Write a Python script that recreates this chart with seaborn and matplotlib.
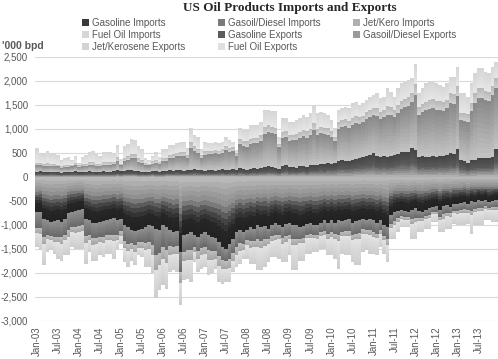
import numpy as np
import pandas as pd
import matplotlib
matplotlib.use("Agg")
import matplotlib.pyplot as plt
from matplotlib.patches import Patch
import seaborn as sns

#%% Data ('000 bpd), monthly Jan-03 .. Dec-13, imports negative

months = pd.date_range("2003-01-01", "2013-12-01", freq="MS")

tick_labels = ["Jan-03", "Jul-03", "Jan-04", "Jul-04", "Jan-05", "Jul-05",
               "Jan-06", "Jul-06", "Jan-07", "Jul-07", "Jan-08", "Jul-08",
               "Jan-09", "Jul-09", "Jan-10", "Jul-10", "Jan-11", "Jul-11",
               "Jan-12", "Jan-12", "Jan-13", "Jul-13"]

gasoline_imports = [
    -730, -720, -870, -900, -940, -920, -900, -930, -880, -760, -720, -700,
    -680, -660, -870, -900, -950, -960, -940, -920, -900, -880, -850, -900,
    -870, -1000, -1050, -1100, -1120, -1100, -1080, -1050, -1000, -1020, -1080, -1100,
    -1000, -1050, -1100, -1150, -1120, -1560, -1200, -1180, -1150, -1200, -1250, -1180,
    -1150, -1200, -1250, -1280, -1350, -1450, -1490, -1400, -1300, -1150, -1100, -1150,
    -1100, -1050, -1080, -1000, -1050, -1020, -1080, -1000, -950, -1000, -1050, -980,
    -950, -1000, -1000, -1050, -1020, -980, -950, -1000, -1000, -950, -900, -950,
    -900, -950, -900, -920, -900, -880, -950, -920, -900, -870, -900, -880,
    -900, -950, -900, -1000, -1050, -800, -720, -700, -680, -700, -720, -680,
    -650, -700, -720, -680, -650, -620, -600, -680, -600, -580, -620, -560,
    -560, -540, -520, -560, -500, -520, -480, -500, -480, -520, -500, -480]

gasoil_imports = [
    -330, -340, -380, -300, -290, -320, -340, -330, -320, -350, -320, -340,
    -350, -330, -360, -300, -320, -310, -300, -330, -300, -320, -350, -300,
    -250, -330, -340, -280, -300, -260, -280, -330, -350, -400, -550, -480,
    -450, -480, -340, -300, -320, -420, -360, -350, -380, -250, -300, -300,
    -300, -330, -300, -260, -300, -280, -260, -300, -280, -300, -280, -240,
    -220, -280, -250, -300, -280, -270, -220, -230, -250, -200, -230, -250,
    -250, -300, -300, -240, -250, -220, -230, -200, -210, -200, -220, -240,
    -250, -240, -300, -220, -230, -240, -250, -260, -270, -220, -200, -220,
    -240, -230, -200, -220, -250, -180, -200, -160, -140, -130, -120, -200,
    -200, -150, -140, -130, -140, -110, -120, -150, -180, -160, -140, -140,
    -150, -140, -150, -130, -200, -150, -160, -150, -130, -120, -130, -140]

jet_imports = [
    -110, -130, -150, -100, -90, -110, -120, -130, -120, -140, -110, -120,
    -120, -130, -150, -120, -140, -130, -120, -130, -120, -120, -140, -110,
    -100, -150, -160, -120, -140, -110, -120, -150, -160, -200, -300, -260,
    -250, -260, -180, -150, -170, -220, -190, -190, -200, -120, -160, -150,
    -160, -200, -180, -160, -200, -180, -170, -190, -170, -180, -170, -130,
    -100, -140, -120, -160, -150, -140, -100, -110, -120, -100, -110, -120,
    -90, -120, -120, -90, -100, -80, -90, -70, -80, -80, -90, -100,
    -100, -100, -130, -90, -100, -100, -110, -120, -120, -90, -90, -100,
    -100, -90, -80, -90, -110, -80, -90, -70, -60, -60, -50, -90,
    -90, -70, -60, -60, -70, -50, -50, -70, -90, -80, -70, -60,
    -60, -60, -70, -50, -90, -60, -70, -60, -50, -50, -60, -60]

fuel_oil_imports = [
    -290, -340, -440, -260, -210, -250, -340, -350, -310, -380, -310, -330,
    -350, -370, -430, -240, -330, -340, -270, -290, -280, -280, -360, -180,
    -170, -290, -330, -240, -280, -160, -190, -350, -370, -390, -600, -520,
    -550, -540, -360, -340, -370, -460, -400, -400, -460, -200, -270, -280,
    -270, -320, -280, -210, -340, -310, -270, -300, -230, -250, -260, -180,
    -280, -340, -360, -480, -460, -450, -370, -330, -350, -400, -380, -420,
    -340, -520, -520, -360, -370, -320, -330, -290, -270, -260, -280, -340,
    -380, -410, -580, -370, -400, -410, -460, -540, -550, -380, -340, -400,
    -360, -360, -280, -290, -360, -230, -280, -220, -160, -150, -150, -320,
    -350, -230, -230, -210, -220, -160, -170, -250, -280, -260, -250, -210,
    -240, -270, -270, -230, -390, -280, -300, -300, -240, -210, -250, -260]

gasoline_exports = [
    110, 120, 100, 100, 110, 110, 100, 90, 100, 100, 110, 120,
    100, 100, 110, 120, 110, 100, 110, 120, 110, 110, 120, 140,
    120, 130, 140, 140, 130, 120, 110, 100, 110, 130, 120, 110,
    120, 130, 140, 130, 150, 140, 130, 140, 150, 160, 150, 140,
    130, 150, 140, 130, 150, 160, 140, 150, 170, 150, 180, 170,
    150, 160, 180, 170, 190, 200, 220, 210, 190, 170, 220, 240,
    200, 210, 190, 220, 230, 200, 240, 260, 250, 280, 270, 285,
    280, 285, 330, 350, 340, 330, 360, 380, 400, 420, 440, 460,
    490, 430, 420, 440, 420, 430, 460, 480, 530, 530, 520, 600,
    560, 420, 430, 410, 420, 430, 410, 440, 430, 450, 500, 470,
    575, 360, 340, 285, 350, 360, 390, 390, 390, 390, 420, 580]

gasoil_exports = [
    140, 130, 120, 130, 120, 110, 120, 100, 110, 100, 110, 120,
    110, 120, 120, 140, 150, 130, 120, 140, 150, 140, 150, 200,
    120, 200, 220, 250, 260, 200, 180, 150, 130, 150, 180, 160,
    220, 200, 250, 270, 290, 300, 310, 250, 450, 380, 350, 260,
    330, 320, 330, 360, 330, 350, 420, 380, 370, 280, 500, 480,
    480, 520, 530, 540, 560, 700, 720, 700, 700, 450, 600, 600,
    560, 560, 580, 600, 620, 620, 640, 720, 620, 640, 620, 600,
    560, 460, 680, 700, 720, 700, 730, 740, 700, 720, 760, 790,
    800, 850, 780, 800, 880, 860, 780, 860, 880, 920, 950, 960,
    1150, 880, 930, 980, 1000, 1000, 990, 960, 950, 980, 1050, 1060,
    1120, 820, 830, 870, 1020, 1180, 1260, 1260, 1220, 1200, 1280, 1270]

jet_exports = [
    50, 40, 50, 60, 50, 50, 40, 40, 50, 50, 40, 50,
    30, 50, 50, 50, 60, 50, 50, 60, 60, 60, 50, 70,
    40, 70, 70, 80, 80, 70, 60, 40, 40, 50, 60, 50,
    60, 60, 70, 70, 70, 80, 80, 60, 120, 100, 90, 60,
    80, 70, 70, 80, 70, 80, 90, 80, 80, 60, 110, 100,
    110, 120, 110, 110, 120, 150, 140, 140, 140, 70, 120, 120,
    120, 110, 120, 120, 130, 130, 130, 150, 130, 130, 130, 130,
    110, 90, 130, 130, 140, 130, 140, 150, 140, 140, 150, 150,
    150, 160, 150, 150, 170, 160, 150, 170, 180, 180, 190, 190,
    220, 160, 170, 180, 190, 190, 180, 180, 180, 180, 190, 200,
    210, 160, 170, 160, 180, 200, 200, 200, 190, 190, 200, 210]

fuel_oil_exports = [
    300, 220, 220, 250, 210, 220, 200, 120, 130, 160, 95, 155,
    45, 155, 180, 205, 220, 200, 165, 210, 200, 210, 180, 255,
    95, 255, 260, 320, 300, 265, 225, 100, 75, 115, 155, 105,
    175, 185, 205, 195, 190, 215, 215, 145, 295, 235, 235, 115,
    195, 175, 175, 165, 150, 145, 190, 160, 115, 70, 225, 230,
    240, 285, 265, 265, 285, 345, 315, 330, 350, 150, 280, 260,
    275, 275, 300, 280, 310, 305, 315, 370, 325, 310, 305, 275,
    240, 180, 255, 250, 265, 270, 305, 300, 260, 255, 255, 275,
    270, 305, 290, 285, 375, 330, 285, 335, 360, 355, 360, 305,
    425, 285, 315, 380, 375, 365, 370, 335, 320, 340, 350, 360,
    395, 405, 405, 360, 400, 420, 415, 415, 395, 380, 400, 340]

series_names = ["Gasoline Imports", "Gasoil/Diesel Imports", "Jet/Kero Imports",
                "Fuel Oil Imports", "Gasoline Exports", "Gasoil/Diesel Exports",
                "Jet/Kerosene Exports", "Fuel Oil Exports"]

#%% Styling: gradient stops (zero side first) and legend swatch colour

series_values = [gasoline_imports, gasoil_imports, jet_imports, fuel_oil_imports,
                 gasoline_exports, gasoil_exports, jet_exports, fuel_oil_exports]
grad_colors = [["#b8b8b8", "#a2a2a2", "#8c8c8c", "#4a4a4a", "#262626", "#222222"],
               ["#8e8e8e", "#6a6a6a"],
               ["#bdbdbd", "#a5a5a5"],
               ["#e2e2e2", "#cdcdcd"],
               ["#b0b0b0", "#5a5a5a", "#464646"],
               ["#c2c2c2", "#8a8a8a"],
               ["#cfcfcf", "#b8b8b8"],
               ["#e6e6e6", "#d5d5d5"]]
swatch = ["#3a3a3a", "#7a7a7a", "#b0b0b0", "#d6d6d6",
          "#5c5c5c", "#9a9a9a", "#d3d3d3", "#e0e0e0"]

sns.set_theme(style="white")
plt.rcParams["font.family"] = ["Liberation Sans", "DejaVu Sans"]
grey_txt = "#595959"

fig = plt.figure(figsize=(4.98, 3.59), dpi=100)
ax = fig.add_axes([35 / 498, 38 / 359, 463 / 498, 264 / 359])

x = np.arange(len(months))
pos_base = np.zeros(len(x))
neg_base = np.zeros(len(x))
n_slices = 12

for vals, stops in zip(series_values, grad_colors):
    vals = np.array(vals, dtype=float)
    base = np.where(vals >= 0, pos_base, neg_base)
    shades = sns.blend_palette(stops, n_slices)
    for k, col in enumerate(shades):
        ax.bar(x, vals / n_slices, bottom=base + vals * k / n_slices, width=1.0,
               color=col, linewidth=0, antialiased=False, zorder=2)
    pos_base = pos_base + np.where(vals > 0, vals, 0)
    neg_base = neg_base + np.where(vals < 0, vals, 0)

#%% Axes, grid and labels

ax.set_xlim(-0.5, len(x) - 0.5)
ax.set_ylim(-3000, 2500)
yt = np.arange(-3000, 2501, 500)
ax.set_yticks(yt)
ax.set_yticklabels([f"{v:,}" for v in yt])
ax.set_xticks(np.arange(0, len(x), 6)[:len(tick_labels)])
ax.set_xticklabels(tick_labels, rotation=90)
ax.tick_params(axis="both", length=0, labelsize=7, colors=grey_txt)
ax.tick_params(axis="y", pad=5)
ax.tick_params(axis="x", pad=4)
ax.yaxis.grid(True, color="#d9d9d9", linewidth=0.8, zorder=0)
ax.set_axisbelow(True)
sns.despine(ax=ax, left=True, bottom=True)

fig.text(0.581, 1 - 8 / 359, "US Oil Products Imports and Exports", ha="center",
         va="center", fontsize=9.5, fontweight="bold",
         family=["Liberation Serif", "DejaVu Serif"], color="#262626")
fig.text(2 / 498, 1 - 46 / 359, "'000 bpd", ha="left", va="center",
         fontsize=7.5, fontweight="bold", color=grey_txt)

handles = [Patch(facecolor=c, edgecolor="none") for c in swatch]
order = [0, 3, 6, 1, 4, 7, 2, 5]
leg = fig.legend([handles[i] for i in order], [series_names[i] for i in order],
                 ncol=3, loc="upper left", bbox_to_anchor=(82 / 498, 1 - 18 / 359),
                 frameon=False, fontsize=7, handlelength=0.7, handleheight=0.7,
                 handletextpad=0.3, columnspacing=3.4, labelspacing=0.22,
                 borderpad=0, borderaxespad=0)
for t in leg.get_texts():
    t.set_color(grey_txt)

fig.savefig("out.png", dpi=100)
